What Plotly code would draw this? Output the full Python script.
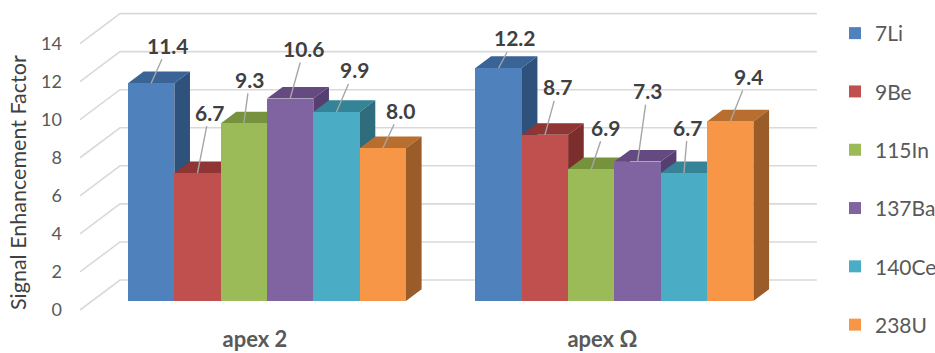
import plotly.graph_objects as go

# ---- data ----
groups = ["apex 2", "apex Ω"]
series = ["7Li", "9Be", "115In", "137Ba", "140Ce", "238U"]
li7 = [11.4, 12.2]
be9 = [6.7, 8.7]
in115 = [9.3, 6.9]
ba137 = [10.6, 7.3]
ce140 = [9.9, 6.7]
u238 = [8.0, 9.4]
values = [li7, be9, in115, ba137, ce140, u238]
y_ticks = [0, 2, 4, 6, 8, 10, 12, 14]

# ---- styles ----
front = ["#4f81bd", "#c0504d", "#9bbb59", "#8064a2", "#4bacc6", "#f79646"]
side = ["#2f527c", "#7b2e2c", "#5f7732", "#553e70", "#2f6c7e", "#9a5c28"]
top = ["#3a6496", "#8f3533", "#76923c", "#654a82", "#358397", "#b86e2f"]
GRID = "#d9d9d9"
FONT = "Lato, sans-serif"

# geometry in axis units (x: one unit = one bar width)
group_start = [0.0, 7.5]
depth_x, depth_y = 0.338, 0.61
wall_left, wall_back, wall_right = -1.036, -0.173, 14.87
wall_rise = 1.576
label_shift = 0.26

# label offsets in pixels relative to each bar's top edge centre: per series, per group
label_dx = [[17, 16], [12, 13], [6, 14], [14, 10], [18, 4], [18, 18]]
label_dy = [[-38, -30], [-61, -48], [-44, -42], [-50, -71], [-42, -46], [-38, -45]]

fig = go.Figure()

# walls' gridlines, on the tick axis
for t in y_ticks:
    fig.add_trace(go.Scatter(
        x=[wall_left, wall_back, wall_right],
        y=[t, t + wall_rise, t + wall_rise],
        mode="lines", line=dict(color=GRID, width=1.6),
        showlegend=False, hoverinfo="skip", yaxis="y",
    ))

# bars: top and side faces, then the front; painted left to right
for i, name in enumerate(series):
    sx, sy, tx, ty, cx = [], [], [], [], []
    for g, v in zip(group_start, values[i]):
        left, right = g + i, g + i + 1
        cx.append(g + i + 0.5)
        sx += [right, right + depth_x, right + depth_x, right, right, None]
        sy += [0, depth_y, v + depth_y, v, 0, None]
        tx += [left, left + depth_x, right + depth_x, right, left, None]
        ty += [v, v + depth_y, v + depth_y, v, v, None]
    for xs, ys, col in ((tx, ty, top[i]), (sx, sy, side[i])):
        fig.add_trace(go.Scatter(
            x=xs, y=ys, mode="lines", fill="toself", fillcolor=col,
            line=dict(width=0, color=col), showlegend=False,
            hoverinfo="skip", yaxis="y2", zorder=2 * i,
        ))
    fig.add_trace(go.Bar(
        x=cx, y=values[i], width=1, name=name, yaxis="y2",
        marker=dict(color=front[i], line=dict(width=0)),
        legendgroup=name, zorder=2 * i + 1,
    ))
    for k, (c, v) in enumerate(zip(cx, values[i])):
        fig.add_annotation(
            x=c, y=v, xref="x", yref="y2", text=f"<b>{v:.1f}</b>",
            showarrow=True, arrowhead=0, arrowwidth=1.4, arrowcolor="#a6a6a6",
            ax=label_dx[i][k], ay=label_dy[i][k], standoff=0,
            font=dict(family=FONT, size=21, color="#404040"),
        )

fig.add_annotation(
    xref="paper", yref="paper", x=-0.0516, y=0.4352, text="Signal Enhancement Factor",
    xanchor="center", yanchor="middle", textangle=-90, showarrow=False,
    font=dict(family=FONT, size=21.5, color="#404040"),
)

fig.update_layout(
    width=935, height=353, autosize=False,
    margin=dict(l=63, r=0, t=0, b=29, autoexpand=False),
    paper_bgcolor="white", plot_bgcolor="white",
    barmode="overlay", bargap=0,
    showlegend=True,
    legend=dict(
        x=0.8853, y=0.9599, xanchor="left", yanchor="top", xref="paper", yref="paper",
        font=dict(family=FONT, size=21, color="#595959"),
        tracegroupgap=28, itemclick=False, itemdoubleclick=False,
        bgcolor="rgba(0,0,0,0)", itemsizing="constant",
    ),
    xaxis=dict(
        range=[-1.403, 17.42], showgrid=False, zeroline=False, showline=False,
        tickmode="array",
        tickvals=[g + 3 - label_shift for g in group_start],
        ticktext=[f"<b>{g}</b>" for g in groups],
        ticklen=0, ticks="", tickfont=dict(family=FONT, size=22, color="#595959"),
        fixedrange=True,
    ),
    yaxis=dict(
        range=[-0.736, 16.29], showgrid=False, zeroline=False, showline=False,
        tickmode="array", tickvals=y_ticks, ticks="", ticklen=0,
        tickfont=dict(family=FONT, size=18, color="#595959"), fixedrange=True,
    ),
    yaxis2=dict(
        range=[-1.204, 15.76], overlaying="y", visible=False, fixedrange=True,
    ),
)

# drop the page's default body margin so that the figure fills the window exactly
fig.write_html(
    "out.html",
    config={"displayModeBar": False},
    post_script="document.body.style.margin='0';",
)
